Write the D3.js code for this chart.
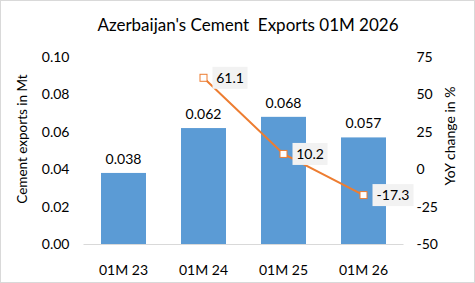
<!DOCTYPE html>
<html>
<head>
<meta charset="utf-8">
<script src="https://cdn.jsdelivr.net/npm/d3@7"></script>
<style>
  body { margin: 0; background: #fff; }
  svg { font-family: Lato, "Open Sans", sans-serif; display: block; }
</style>
</head>
<body>
<div id="chart"></div>
<script>
// chart data
var categories = ["01M 23", "01M 24", "01M 25", "01M 26"];
var exportsMt = [0.038, 0.062, 0.068, 0.057];
var yoyCats = ["01M 24", "01M 25", "01M 26"];
var yoyChange = [61.1, 10.2, -17.3];
var leftTicks = [0, 0.02, 0.04, 0.06, 0.08, 0.10];
var rightTicks = [-50, -25, 0, 25, 50, 75];

var svgWidth = 475, svgHeight = 283;
var margin = {top: 57, right: 71.5, bottom: 39, left: 83.5};
var width = svgWidth - margin.left - margin.right;
var height = svgHeight - margin.top - margin.bottom;

var svg = d3.select("#chart").append("svg")
    .attr("width", svgWidth)
    .attr("height", svgHeight);

// outer frame
svg.append("rect")
    .attr("x", 0.5).attr("y", 0.5)
    .attr("width", svgWidth - 1).attr("height", svgHeight - 1)
    .attr("fill", "#fff").attr("stroke", "#d9d9d9");

// title
svg.append("text")
    .attr("x", 248).attr("y", 31)
    .attr("text-anchor", "middle")
    .attr("font-size", 17).attr("fill", "#000")
    .style("white-space", "pre")
    .text("Azerbaijan's Cement  Exports 01M 2026");

var g = svg.append("g").attr("transform", `translate(${margin.left},${margin.top})`);

// scales
var x = d3.scaleBand().domain(categories).range([0, width]).paddingInner(0.4375).paddingOuter(0.21875);
var yL = d3.scaleLinear().domain([0, 0.10]).range([height, 0]);
var yR = d3.scaleLinear().domain([-50, 75]).range([height, 0]);

// left axis
var leftAxis = d3.axisLeft(yL).tickValues(leftTicks).tickFormat(d3.format(".2f")).tickSize(0).tickPadding(14);
g.append("g").call(leftAxis)
    .call(a => a.select(".domain").remove())
    .selectAll("text").attr("font-size", 14).attr("fill", "#000").attr("font-family", "Lato, 'Open Sans', sans-serif");

// right axis
var rightAxis = d3.axisRight(yR).tickValues(rightTicks).tickSize(0).tickFormat(d => String(d)).tickPadding(13);
g.append("g").attr("transform", `translate(${width},0)`).call(rightAxis)
    .call(a => a.select(".domain").remove())
    .selectAll("text").attr("font-size", 14).attr("fill", "#000").attr("font-family", "Lato, 'Open Sans', sans-serif");

// bars
g.selectAll("rect.bar")
    .data(exportsMt)
    .enter().append("rect")
    .attr("class", "bar")
    .attr("x", (d, i) => x(categories[i]))
    .attr("y", d => yL(d))
    .attr("width", x.bandwidth())
    .attr("height", d => height - yL(d))
    .attr("fill", "#5b9bd5");

// bar labels
g.selectAll("text.blab")
    .data(exportsMt)
    .enter().append("text")
    .attr("class", "blab")
    .attr("x", (d, i) => x(categories[i]) + x.bandwidth() / 2)
    .attr("y", d => yL(d) - 9)
    .attr("text-anchor", "middle")
    .attr("font-size", 14).attr("fill", "#000")
    .text(d => d.toFixed(3));

// x axis baseline
g.append("line")
    .attr("x1", 0).attr("x2", width)
    .attr("y1", height + 0.5).attr("y2", height + 0.5)
    .attr("stroke", "#d9d9d9");

// x labels
g.selectAll("text.xlab")
    .data(categories)
    .enter().append("text")
    .attr("class", "xlab")
    .attr("x", d => x(d) + x.bandwidth() / 2)
    .attr("y", height + 31)
    .attr("text-anchor", "middle")
    .attr("font-size", 14).attr("fill", "#000")
    .text(d => d);

// yoy line
var cx = (d, i) => x(yoyCats[i]) + x.bandwidth() / 2;
var line = d3.line().x((d, i) => cx(d, i)).y(d => yR(d));
g.append("path")
    .datum(yoyChange)
    .attr("d", line)
    .attr("fill", "none")
    .attr("stroke", "#ed7d31")
    .attr("stroke-width", 2);

g.selectAll("rect.mk")
    .data(yoyChange)
    .enter().append("rect")
    .attr("class", "mk")
    .attr("x", (d, i) => cx(d, i) - 3.5)
    .attr("y", d => yR(d) - 3.5)
    .attr("width", 7).attr("height", 7)
    .attr("fill", "#fff")
    .attr("stroke", "#ed7d31")
    .attr("stroke-width", 1);

// yoy labels with boxes
var lab = g.selectAll("g.ylab")
    .data(yoyChange)
    .enter().append("g")
    .attr("class", "ylab")
    .attr("transform", (d, i) => `translate(${cx(d, i) + 9},${yR(d)})`);
lab.append("rect")
    .attr("x", 0).attr("y", -11)
    .attr("width", d => d < 0 ? 41 : 35).attr("height", 22)
    .attr("fill", "#f2f2f2");
lab.append("text")
    .attr("x", d => d < 0 ? 20.5 : 17.5).attr("y", 5)
    .attr("text-anchor", "middle")
    .attr("font-size", 14).attr("fill", "#000")
    .text(d => d.toFixed(1));

// axis titles
svg.append("text")
    .attr("transform", "translate(27,139) rotate(-90)")
    .attr("text-anchor", "middle")
    .attr("font-size", 13.5).attr("fill", "#000")
    .text("Cement exports in Mt");
svg.append("text")
    .attr("transform", "translate(455,136) rotate(-90)")
    .attr("text-anchor", "middle")
    .attr("font-size", 14).attr("fill", "#000")
    .text("YoY change in %");
</script>
</body>
</html>
